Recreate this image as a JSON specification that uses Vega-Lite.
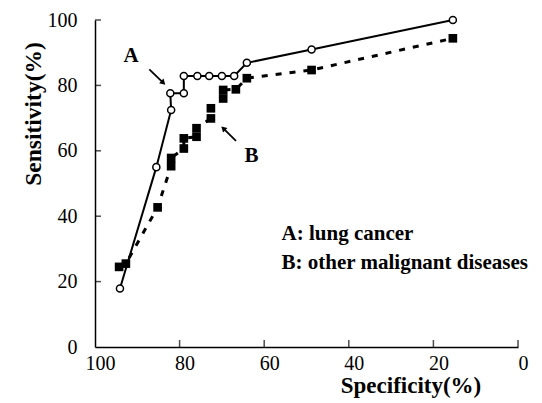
{
  "$schema": "https://vega.github.io/schema/vega-lite/v6.json",
  "width": 423,
  "height": 327,
  "autosize": {"type": "none"},
  "padding": {"left": 95, "top": 20, "right": 24, "bottom": 56},
  "background": "white",
  "config": {
    "view": {"stroke": null},
    "font": "Liberation Serif"
  },
  "datasets": {
    "curveA": [
      {"i": 1, "spec": 94.1, "sens": 17.9},
      {"i": 2, "spec": 85.5, "sens": 55.0},
      {"i": 3, "spec": 82.0, "sens": 72.5},
      {"i": 4, "spec": 82.2, "sens": 77.6},
      {"i": 5, "spec": 79.0, "sens": 77.6},
      {"i": 6, "spec": 79.0, "sens": 82.9},
      {"i": 7, "spec": 75.8, "sens": 82.9},
      {"i": 8, "spec": 73.0, "sens": 82.9},
      {"i": 9, "spec": 70.0, "sens": 82.9},
      {"i": 10, "spec": 67.1, "sens": 82.9},
      {"i": 11, "spec": 64.1, "sens": 86.9},
      {"i": 12, "spec": 48.8, "sens": 91.0},
      {"i": 13, "spec": 15.4, "sens": 100.0}
    ],
    "curveB": [
      {"i": 1, "spec": 94.3, "sens": 24.5},
      {"i": 2, "spec": 92.7, "sens": 25.5},
      {"i": 3, "spec": 85.2, "sens": 42.7},
      {"i": 4, "spec": 82.0, "sens": 55.3},
      {"i": 5, "spec": 82.0, "sens": 57.8},
      {"i": 6, "spec": 79.0, "sens": 60.7},
      {"i": 7, "spec": 79.0, "sens": 63.8},
      {"i": 8, "spec": 76.0, "sens": 64.3},
      {"i": 9, "spec": 76.0, "sens": 66.9},
      {"i": 10, "spec": 72.6, "sens": 69.9},
      {"i": 11, "spec": 72.6, "sens": 73.0},
      {"i": 12, "spec": 69.7, "sens": 76.0},
      {"i": 13, "spec": 69.7, "sens": 78.6},
      {"i": 14, "spec": 66.7, "sens": 78.8},
      {"i": 15, "spec": 64.1, "sens": 82.2},
      {"i": 16, "spec": 48.8, "sens": 84.7},
      {"i": 17, "spec": 15.4, "sens": 94.4}
    ],
    "xticks": [
      {"spec": 0, "sens": 0}, {"spec": 20, "sens": 0}, {"spec": 40, "sens": 0},
      {"spec": 60, "sens": 0}, {"spec": 80, "sens": 0}
    ],
    "yticks": [
      {"spec": 100, "sens": 20}, {"spec": 100, "sens": 40}, {"spec": 100, "sens": 60},
      {"spec": 100, "sens": 80}, {"spec": 100, "sens": 100}
    ],
    "arrows": [
      {"name": "A", "spec": 87.16, "sens": 84.9, "spec2": 83.85, "sens2": 80.8},
      {"name": "B", "spec": 66.67, "sens": 63.05, "spec2": 69.67, "sens2": 66.85}
    ],
    "tags": [
      {"label": "A", "spec": 91.5, "sens": 87.2},
      {"label": "B", "spec": 63.0, "sens": 56.6}
    ],
    "legendText": [
      {"label": "A: lung cancer", "spec": 55.9, "sens": 32.66},
      {"label": "B: other malignant diseases", "spec": 55.9, "sens": 24.0}
    ]
  },
  "encoding": {
    "x": {
      "field": "spec",
      "type": "quantitative",
      "scale": {"domain": [0, 100], "reverse": true, "nice": false, "zero": false},
      "axis": {
        "values": [0, 20, 40, 60, 80, 100],
        "grid": false,
        "domainColor": "black",
        "domainWidth": 1.5,
        "ticks": false,
        "labelFont": "Liberation Serif",
        "labelFontSize": 20,
        "labelColor": "black",
        "labelOffset": 5,
        "labelPadding": 6,
        "labelFlush": false,
        "labelOverlap": false,
        "labelBound": false,
        "title": "Specificity(%)",
        "titleFont": "Liberation Serif",
        "titleFontSize": 23,
        "titleFontWeight": "bold",
        "titleColor": "black",
        "titleX": 315.5,
        "titleY": 45.5,
        "titleAlign": "center",
        "titleBaseline": "alphabetic"
      }
    },
    "y": {
      "field": "sens",
      "type": "quantitative",
      "scale": {"domain": [0, 100], "nice": false},
      "axis": {
        "values": [0, 20, 40, 60, 80, 100],
        "grid": false,
        "domainColor": "black",
        "domainWidth": 1.5,
        "ticks": false,
        "labelFont": "Liberation Serif",
        "labelFontSize": 20,
        "labelColor": "black",
        "labelPadding": 18,
        "labelFlush": false,
        "labelOverlap": false,
        "labelBound": false,
        "title": "Sensitivity(%)",
        "titleFont": "Liberation Serif",
        "titleFontSize": 23.5,
        "titleFontWeight": "bold",
        "titleColor": "black",
        "titleAngle": -90,
        "titleX": -55,
        "titleY": 93.5,
        "titleAlign": "center",
        "titleBaseline": "alphabetic"
      }
    }
  },
  "layer": [
    {
      "data": {"name": "xticks"},
      "mark": {"type": "tick", "orient": "vertical", "color": "black", "thickness": 1.5, "size": 7, "yOffset": -3.5},
      "encoding": {}
    },
    {
      "data": {"name": "yticks"},
      "mark": {"type": "tick", "orient": "horizontal", "color": "black", "thickness": 1.5, "size": 6, "xOffset": 3},
      "encoding": {}
    },
    {
      "data": {"name": "curveB"},
      "mark": {"type": "line", "color": "black", "strokeWidth": 3, "strokeDash": [6, 8]},
      "encoding": {"order": {"field": "i", "type": "quantitative"}}
    },
    {
      "data": {"name": "curveB"},
      "mark": {"type": "point", "shape": "square", "filled": true, "color": "black", "size": 75, "opacity": 1}
    },
    {
      "data": {"name": "curveA"},
      "mark": {"type": "line", "color": "black", "strokeWidth": 2},
      "encoding": {"order": {"field": "i", "type": "quantitative"}}
    },
    {
      "data": {"name": "curveA"},
      "mark": {"type": "point", "shape": "circle", "filled": false, "fill": "white", "fillOpacity": 1, "stroke": "black", "strokeWidth": 1.5, "size": 50, "opacity": 1}
    },
    {
      "data": {"name": "arrows"},
      "mark": {"type": "rule", "color": "black", "strokeWidth": 1.8},
      "encoding": {
        "x2": {"field": "spec2"},
        "y2": {"field": "sens2"}
      }
    },
    {
      "data": {"name": "arrows"},
      "transform": [{"filter": "datum.name === 'A'"}],
      "mark": {"type": "point", "shape": "triangle-up", "filled": true, "color": "black", "size": 40, "angle": 134, "opacity": 1},
      "encoding": {
        "x": {"field": "spec2", "type": "quantitative"},
        "y": {"field": "sens2", "type": "quantitative"}
      }
    },
    {
      "data": {"name": "arrows"},
      "transform": [{"filter": "datum.name === 'B'"}],
      "mark": {"type": "point", "shape": "triangle-up", "filled": true, "color": "black", "size": 40, "angle": 314, "opacity": 1},
      "encoding": {
        "x": {"field": "spec2", "type": "quantitative"},
        "y": {"field": "sens2", "type": "quantitative"}
      }
    },
    {
      "data": {"name": "tags"},
      "mark": {"type": "text", "font": "Liberation Serif", "fontWeight": "bold", "fontSize": 21, "align": "center", "baseline": "alphabetic", "color": "black"},
      "encoding": {"text": {"field": "label"}}
    },
    {
      "data": {"name": "legendText"},
      "mark": {"type": "text", "font": "Liberation Serif", "fontWeight": "bold", "fontSize": 21, "align": "left", "baseline": "alphabetic", "color": "black"},
      "encoding": {"text": {"field": "label"}}
    }
  ]
}
